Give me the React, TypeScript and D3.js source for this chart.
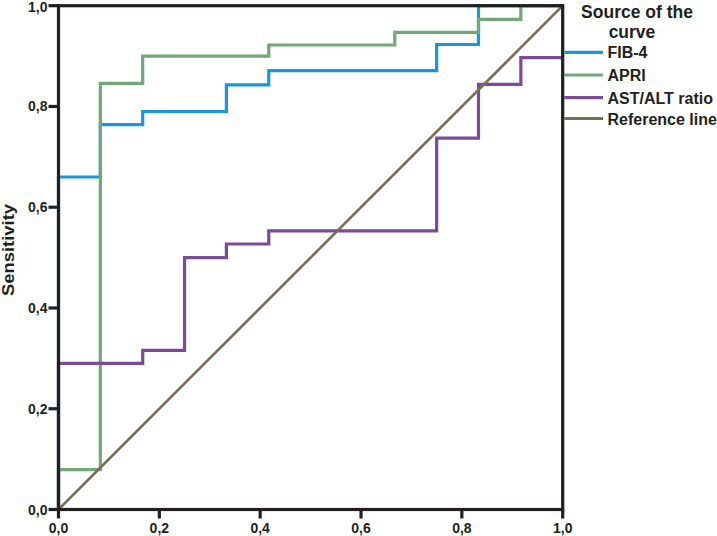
import React from "react";
import * as d3 from "d3";

// ROC step corner points (1 - specificity, sensitivity)
const fib4X = [0, 0, 0.083, 0.167, 0.333, 0.417, 0.75, 0.833, 1];
const fib4Y = [0, 0.66, 0.764, 0.79, 0.843, 0.871, 0.923, 1, 1];

const apriX = [0, 0, 0.083, 0.167, 0.417, 0.667, 0.833, 0.917, 1];
const apriY = [0, 0.079, 0.846, 0.9, 0.922, 0.947, 0.973, 1, 1];

const astAltX = [0, 0, 0.167, 0.25, 0.333, 0.417, 0.75, 0.833, 0.917, 1];
const astAltY = [0, 0.29, 0.316, 0.5, 0.527, 0.553, 0.737, 0.844, 0.897, 0.897];

const refX = [0, 1];
const refY = [0, 1];

const seriesNames = ["FIB-4", "APRI", "AST/ALT ratio", "Reference line"];
const seriesColors = ["#1a97d9", "#72a878", "#7d4b95", "#7c6b55"];

const tickValues = [0, 0.2, 0.4, 0.6, 0.8, 1.0];
const tickLabels = ["0,0", "0,2", "0,4", "0,6", "0,8", "1,0"];

const legendTitle = ["Source of the", "curve"];
const yTitle = "Sensitivity";

const FONT = "'Liberation Sans', Arial, Helvetica, sans-serif";
const AXIS = "#231f20";

export default function App() {
  const left = 58.5, right = 562.7, top = 5.7, bottom = 509.5;
  const x = d3.scaleLinear().domain([0, 1]).range([left, right]);
  const y = d3.scaleLinear().domain([0, 1]).range([bottom, top]);

  const step = d3
    .line<[number, number]>()
    .x((d) => x(d[0]))
    .y((d) => y(d[1]))
    .curve(d3.curveStepAfter);
  const straight = d3
    .line<[number, number]>()
    .x((d) => x(d[0]))
    .y((d) => y(d[1]));

  const zip = (a: number[], b: number[]) => a.map((v, i) => [v, b[i]] as [number, number]);

  const curves = [
    { d: step(zip(fib4X, fib4Y)), w: 3.2 },
    { d: step(zip(apriX, apriY)), w: 3.2 },
    { d: step(zip(astAltX, astAltY)), w: 3.2 },
    { d: straight(zip(refX, refY)), w: 2.6 },
  ];

  const legendYs = [52.3, 75, 97.7, 118.5];

  return (
    <svg
      width={717}
      height={536}
      style={{ position: "absolute", left: 0, top: 0, background: "#fff" }}
      fontFamily={FONT}
    >
      <rect x={0} y={0} width={717} height={536} fill="#fff" />
      {curves.map((c, i) => (
        <path key={i} d={c.d || ""} fill="none" stroke={seriesColors[i]} strokeWidth={c.w} strokeLinejoin="miter" />
      ))}
      {/* frame */}
      <rect x={left} y={top} width={right - left} height={bottom - top} fill="none" stroke={AXIS} strokeWidth={3.2} />
      {/* y ticks */}
      {tickValues.map((v, i) => (
        <g key={"y" + i}>
          <line x1={left - 10} x2={left} y1={y(v)} y2={y(v)} stroke={AXIS} strokeWidth={3.2} />
          <text
            x={left - 11}
            y={Math.max(y(v) + 5, 12)}
            textAnchor="end"
            fontSize={14}
            fontWeight="bold"
            fill={AXIS}
          >
            {tickLabels[i]}
          </text>
        </g>
      ))}
      {/* x ticks */}
      {tickValues.map((v, i) => (
        <g key={"x" + i}>
          <line x1={x(v)} x2={x(v)} y1={bottom} y2={bottom + 9} stroke={AXIS} strokeWidth={3.2} />
          <text x={x(v)} y={532.5} textAnchor="middle" fontSize={14} fontWeight="bold" fill={AXIS}>
            {tickLabels[i]}
          </text>
        </g>
      ))}
      {/* y title */}
      <text
        transform={`translate(14,250) rotate(-90)`}
        textAnchor="middle"
        fontSize={17}
        fontWeight="bold"
        fill={AXIS}
        textLength={92}
        lengthAdjust="spacingAndGlyphs"
      >
        {yTitle}
      </text>
      {/* legend */}
      <text x={637} y={17.5} textAnchor="middle" fontSize={17.5} fontWeight="bold" fill={AXIS}>
        {legendTitle[0]}
      </text>
      <text x={632} y={37.5} textAnchor="middle" fontSize={17.5} fontWeight="bold" fill={AXIS}>
        {legendTitle[1]}
      </text>
      {seriesNames.map((n, i) => (
        <g key={"l" + i}>
          <line x1={right + 1.6} x2={603} y1={legendYs[i]} y2={legendYs[i]} stroke={seriesColors[i]} strokeWidth={3.2} />
          <text x={607.5} y={legendYs[i] + 6} fontSize={16} fontWeight="bold" fill={AXIS}>
            {n}
          </text>
        </g>
      ))}
    </svg>
  );
}
